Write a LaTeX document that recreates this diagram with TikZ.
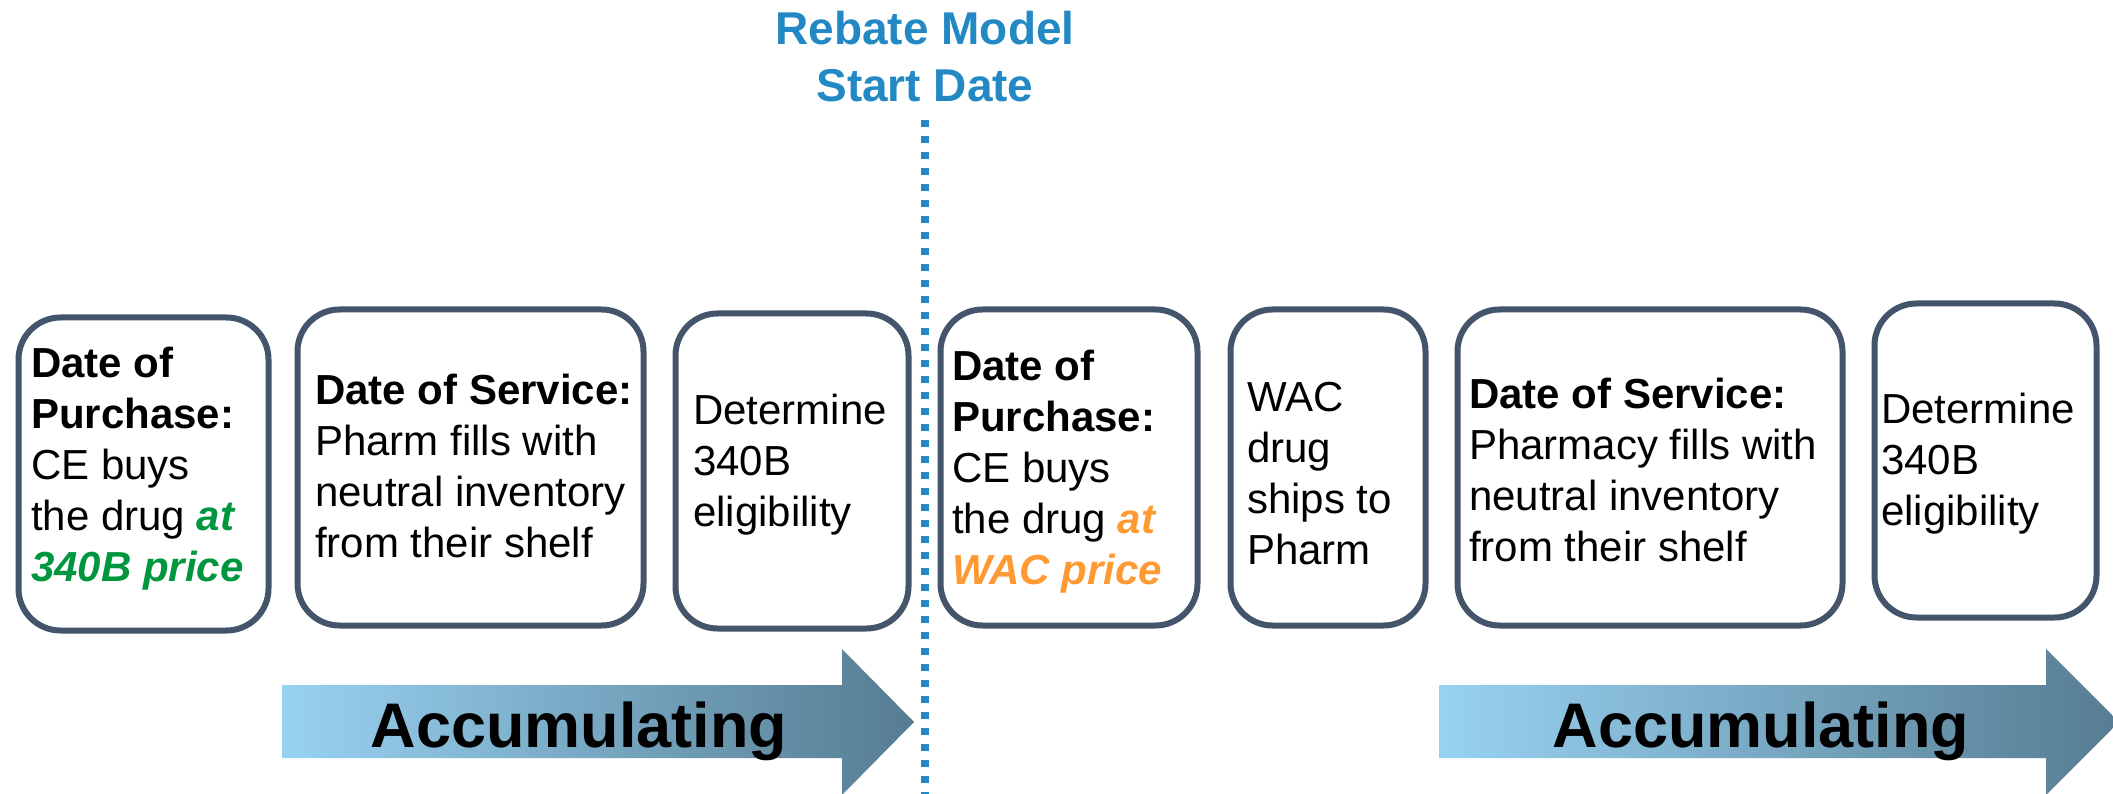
\documentclass[tikz,border=0pt]{standalone}
\usepackage{fontspec}
\setmainfont{Liberation Sans}
\definecolor{border}{RGB}{68,84,106}
\definecolor{titleblue}{RGB}{35,137,196}
\definecolor{pgreen}{RGB}{0,150,64}
\definecolor{porange}{RGB}{255,153,51}
\definecolor{arrowL}{RGB}{152,210,242}
\definecolor{arrowR}{RGB}{86,124,145}
\begin{document}
\begin{tikzpicture}[x=1pt,y=-1pt,
  box/.style={draw=border, line width=6pt, rounded corners=42pt, fill=white, inner sep=0pt, outer sep=0pt},
  body/.style={anchor=west, align=left, inner sep=0pt, font=\fontsize{42}{51}\selectfont},
  acc/.style={anchor=base, inner sep=0pt, font=\fontsize{63}{70}\selectfont\bfseries},
  titletext/.style={anchor=center, align=center, inner sep=0pt, text=titleblue, font=\fontsize{46}{57}\selectfont\bfseries},
  dotline/.style={draw=titleblue, line width=8pt, dash pattern=on 7pt off 9pt},
  accshade/.style={left color=arrowL, right color=arrowR}
]
\fill[white] (0,0) rectangle (2113,794);
\useasboundingbox (0,0) rectangle (2113,794);

% title and dotted line
\node[titletext] (title) at (925,57) {Rebate Model\\Start Date};
\coordinate (dtop) at (925,120);
\coordinate (dbot) at (925,800);
\draw[dotline] (dtop) -- (dbot);

% arrows
\shade[accshade] (282,685) -- (842,685) -- (842,649) -- (914,722) -- (842,795) -- (842,758) -- (282,758) -- cycle;
\shade[accshade] (1439,685) -- (2046,685) -- (2046,649) -- (2119,722) -- (2046,795) -- (2046,758) -- (1439,758) -- cycle;
\node[acc] (acc1) at (579,747) {Accumulating};
\node[acc] (acc2) at (1761,747) {Accumulating};

% boxes
\node[box, minimum width=250pt, minimum height=313pt] (b1) at (143.5,474) {};
\node[box, minimum width=346pt, minimum height=316pt] (b2) at (470.5,467.5) {};
\node[box, minimum width=233pt, minimum height=315pt] (b3) at (792,471) {};
\node[box, minimum width=257pt, minimum height=316pt] (b4) at (1069,467.5) {};
\node[box, minimum width=195pt, minimum height=316pt] (b5) at (1328,467.5) {};
\node[box, minimum width=385pt, minimum height=316pt] (b6) at (1650,467.5) {};
\node[box, minimum width=222pt, minimum height=314pt] (b7) at (1985.5,460.5) {};

% texts
\node[body] (t1) at (31,469) {\textbf{Date of}\\\textbf{Purchase:}\\CE buys\\the drug \textcolor{pgreen}{\textbf{\textit{at}}}\\\textcolor{pgreen}{\textbf{\textit{340B price}}}};
\node[body] (t2) at (315,466) {\textbf{Date of Service:}\\Pharm fills with\\neutral inventory\\from their shelf};
\node[body] (t3) at (693,465) {Determine\\340B\\eligibility};
\node[body] (t4) at (952,472) {\textbf{Date of}\\\textbf{Purchase:}\\CE buys\\the drug \textcolor{porange}{\textbf{\textit{at}}}\\\textcolor{porange}{\textbf{\textit{WAC price}}}};
\node[body] (t5) at (1247,474) {WAC\\drug\\ships to\\Pharm};
\node[body] (t6) at (1469,470) {\textbf{Date of Service:}\\Pharmacy fills with\\neutral inventory\\from their shelf};
\node[body] (t7) at (1881,464) {Determine\\340B\\eligibility};
\end{tikzpicture}
\end{document}
